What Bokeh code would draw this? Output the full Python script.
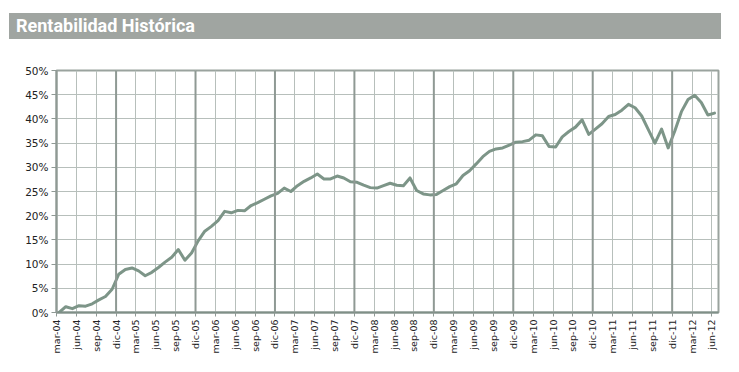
import math
from bokeh.plotting import figure
from bokeh.models import FixedTicker, PrintfTickFormatter, Span, Div, Range1d
from bokeh.layouts import column
from bokeh.embed import file_html
from bokeh.resources import INLINE

title_text = "Rentabilidad Histórica"

quarter_labels = [
    "mar-04", "jun-04", "sep-04", "dic-04",
    "mar-05", "jun-05", "sep-05", "dic-05",
    "mar-06", "jun-06", "sep-06", "dic-06",
    "mar-07", "jun-07", "sep-07", "dic-07",
    "mar-08", "jun-08", "sep-08", "dic-08",
    "mar-09", "jun-09", "sep-09", "dic-09",
    "mar-10", "jun-10", "sep-10", "dic-10",
    "mar-11", "jun-11", "sep-11", "dic-11",
    "mar-12", "jun-12",
]

# monthly cumulative return (%), from mar-04 to jun-12
returns = [
    0.0, 1.2, 0.8, 1.4, 1.3, 1.8, 2.6, 3.3, 4.8, 7.9,
    8.9, 9.2, 8.6, 7.6, 8.3, 9.3, 10.4, 11.4, 13.0, 10.8,
    12.3, 14.8, 16.8, 17.8, 19.0, 20.9, 20.6, 21.1, 21.0, 22.1,
    22.7, 23.4, 24.1, 24.6, 25.7, 25.0, 26.2, 27.1, 27.8, 28.6,
    27.6, 27.6, 28.2, 27.8, 27.0, 26.9, 26.3, 25.8, 25.7, 26.2,
    26.7, 26.3, 26.2, 27.8, 25.2, 24.5, 24.3, 24.4, 25.2, 26.0,
    26.6, 28.3, 29.3, 30.7, 32.2, 33.3, 33.8, 34.0, 34.6, 35.2,
    35.3, 35.6, 36.7, 36.5, 34.3, 34.2, 36.3, 37.4, 38.3, 39.8,
    36.8, 37.9, 39.0, 40.5, 40.9, 41.8, 43.0, 42.3, 40.6, 37.8,
    35.0, 37.9, 34.0, 37.5, 41.5, 44.0, 44.9, 43.4, 40.8, 41.2,
]

# months elapsed since March 2004 (observations taken mid-month)
month_pos = [k + 0.4 for k in range(len(returns))]
quarter_ticks = [3 * i for i in range(len(quarter_labels))]
y_ticks = list(range(0, 55, 5))

LINE = "#7D9588"
GRID = "#B7BFBB"
YEAR = "#8F9994"

p = figure(
    frame_width=662, frame_height=242,
    x_range=Range1d(0, 100), y_range=Range1d(0, 50),
    output_backend="svg", toolbar_location=None,
    min_border_left=56, min_border_right=6,
    min_border_top=24, min_border_bottom=44,
    background_fill_color="white", border_fill_color="white",
)
p.outline_line_color = "#9AA39E"
p.outline_line_width = 2

# grids
p.xgrid.ticker = FixedTicker(ticks=quarter_ticks)
p.ygrid.ticker = FixedTicker(ticks=y_ticks)
p.xgrid.grid_line_color = GRID
p.ygrid.grid_line_color = GRID
p.xgrid.grid_line_width = 1
p.ygrid.grid_line_width = 1

for t, lab in zip(quarter_ticks, quarter_labels):
    if lab.startswith("dic"):
        p.add_layout(Span(location=t, dimension="height",
                          line_color=YEAR, line_width=2))

# axes
xa = p.xaxis[0]
xa.ticker = FixedTicker(ticks=quarter_ticks)
xa.major_label_overrides = {t: l for t, l in zip(quarter_ticks, quarter_labels)}
xa.major_label_orientation = math.pi / 2
xa.major_label_text_font = "DejaVu Sans"
xa.major_label_text_font_size = "9.5px"
xa.major_label_text_color = "#222222"
xa.major_label_standoff = 3
xa.axis_line_color = "#7F8F87"
xa.axis_line_width = 2
xa.major_tick_line_color = "#8F9994"
xa.major_tick_out = 4
xa.major_tick_in = 0
xa.minor_tick_line_color = None

ya = p.yaxis[0]
ya.ticker = FixedTicker(ticks=y_ticks)
ya.formatter = PrintfTickFormatter(format="%d%%")
ya.major_label_text_font = "DejaVu Sans"
ya.major_label_text_font_size = "10.5px"
ya.major_label_text_color = "#222222"
ya.major_label_standoff = 3
ya.axis_line_color = "#8F9994"
ya.axis_line_width = 2
ya.major_tick_line_color = "#8F9994"
ya.major_tick_out = 5
ya.major_tick_in = 0
ya.minor_tick_line_color = None

p.line(month_pos, returns, line_color=LINE, line_width=3,
       line_join="round", line_cap="round")

title = Div(
    text=(
        '<div style="margin-left:4px;margin-top:8px;width:712px;height:26px;'
        'background:#A0A5A1;color:white;font-family:Roboto,sans-serif;'
        'font-weight:bold;font-size:18px;line-height:26px;padding-left:7px;'
        'box-sizing:border-box;">' + title_text + '</div>'
    ),
    width=718, height=36,
)

layout = column(title, p, spacing=0)
open("out.html", "w").write(file_html(layout, INLINE))
